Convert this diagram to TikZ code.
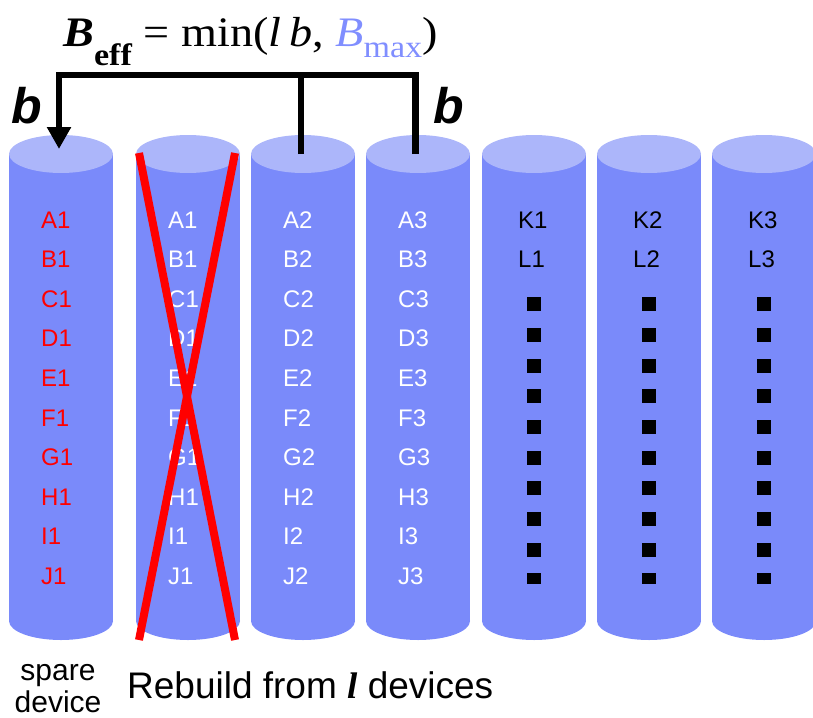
\documentclass[tikz,border=0pt]{standalone}
\usepackage{fontspec}
\setmainfont{Liberation Sans}
\newfontfamily\eqfont{Liberation Serif}
\usepackage{tikz}
\usetikzlibrary{arrows.meta,positioning}
\definecolor{diskbody}{RGB}{122,138,250}
\definecolor{disktop}{RGB}{172,182,250}
\definecolor{bmaxblue}{RGB}{128,142,255}
\definecolor{xred}{RGB}{255,0,0}
\tikzstyle{bracket} = [line width=6.5pt, black]
\tikzstyle{cross} = [line width=8pt, xred]
\tikzstyle{cell} = [anchor=base west, inner sep=0pt, font=\fontsize{24}{24}\selectfont]
\tikzstyle{dot} = [fill=black, minimum width=14pt, minimum height=14pt, inner sep=0pt, anchor=north]
\tikzstyle{label} = [anchor=base, inner sep=0pt]

% one disk drawn as a cylinder, its top centre is named #2
\newcommand{\disk}[2]{%
  \fill[diskbody] (#1-52,154) rectangle (#1+52,621);
  \fill[diskbody] (#1,621) ellipse [x radius=52pt, y radius=19pt];
  \fill[disktop] (#1,154) ellipse [x radius=52pt, y radius=19pt];
  \coordinate (#2) at (#1,154);
}

\begin{document}
\begin{tikzpicture}[x=1pt, y=-1pt]
\useasboundingbox (0,0) rectangle (813,717);

% Disks
\foreach \cx/\name in {61/d0,188/d1,303/d2,418/d3,534/d4,649/d5,764/d6}
  {\disk{\cx}{\name}}

% Blocks on the spare, failed and surviving disks
\foreach \cx/\col/\n [count=\c] in {61/xred/1,188/white/1,303/white/2,418/white/3}
  \foreach \row [count=\r from 0] in {A,B,C,D,E,F,G,H,I,J}
    \node[cell, text=\col] (cell\row\c) at (\cx-20, 228+39.6*\r) {\row\n};

% Other disks
\foreach \cx/\n in {534/1,649/2,764/3} {
  \node[cell] (K\n) at (\cx-16,228) {K\n};
  \node[cell] (L\n) at (\cx-16,267.6) {L\n};
  \foreach \r in {0,...,8}
    \node[dot] (dot\n-\r) at (\cx,297+30.67*\r) {};
  \node[dot, minimum height=11pt] (dot\n-9) at (\cx,573) {};
}

% Failed disk
\draw[cross] (139,153) -- (235,640);
\draw[cross] (235,153) -- (139,640);

% Rebuild bandwidth
\coordinate (bar) at (0,75);
\coordinate (src1) at ([xshift=-2pt]d2);
\coordinate (src2) at ([xshift=-2.5pt]d3);
\coordinate (dst) at ([xshift=-2pt,yshift=5pt]d0);
\draw[bracket] (src1) -- (src1 |- bar);
\draw[bracket, -{Triangle[width=23pt,length=22pt]}] (src2) |- (dst |- bar) -- (dst);

\node[label, font=\fontsize{50}{50}\selectfont\bfseries\itshape] (bin) at (27,123) {b};
\node[label, font=\fontsize{50}{50}\selectfont\bfseries\itshape] (bout) at (449,123) {b};

\node[anchor=base west, inner sep=0pt, font=\eqfont\fontsize{42}{42}\selectfont] (beff) at (63,47)
  {\scalebox{1.1}[1]{\textbf{\textit{B}}\raisebox{-18pt}{\fontsize{31}{31}\selectfont\textbf{eff}} = min(\textit{l\,b}, \textcolor{bmaxblue}{\textit{B}\raisebox{-11pt}{\fontsize{31}{31}\selectfont max}})}};

% Captions
\node[label, font=\fontsize{30}{30}\selectfont] (spare) at (58,680) {spare};
\node[label, font=\fontsize{30}{30}\selectfont] (device) at (58,712) {device};
\node[anchor=base west, inner sep=0pt, font=\fontsize{37}{37}\selectfont] (rebuild) at (127,698)
  {Rebuild from {\eqfont\bfseries\itshape l} devices};

\end{tikzpicture}
\end{document}
